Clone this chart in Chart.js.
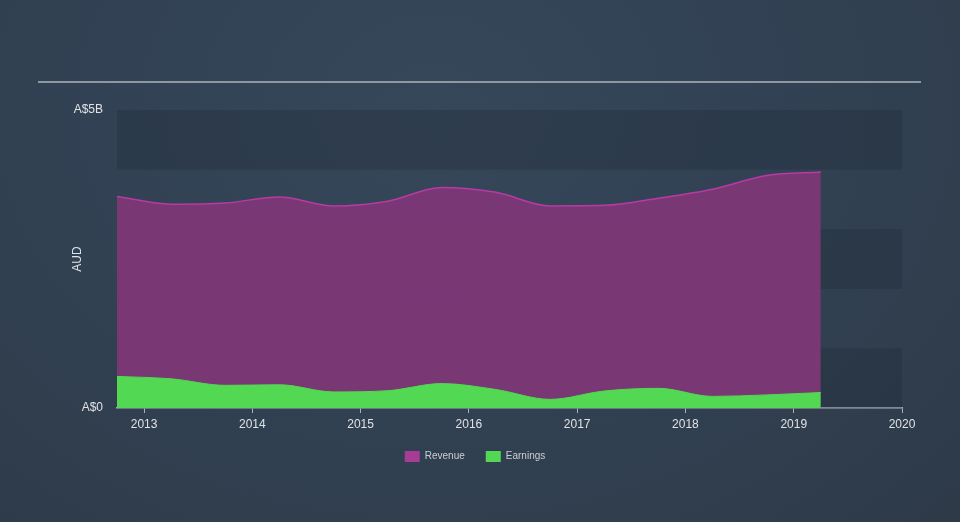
<!DOCTYPE html>
<html>
<head>
<meta charset="utf-8">
<script src="https://cdn.jsdelivr.net/npm/chart.js@4.4.0/dist/chart.umd.min.js"></script>
<style>
  html, body { margin: 0; padding: 0; }
  body {
    width: 960px; height: 522px; overflow: hidden;
    background: radial-gradient(ellipse at 45% 20%, #36475a 0%, #324254 45%, #2e3a48 100%);
  }
  #wrap { position: relative; width: 960px; height: 522px; }
</style>
</head>
<body>
<div id="wrap"><canvas id="chart" width="960" height="522"></canvas></div>
<script>
// half-yearly points, in fractional years
const dates = [2012.75, 2013.25, 2013.75, 2014.25, 2014.75, 2015.25, 2015.75,
               2016.25, 2016.75, 2017.25, 2017.75, 2018.25, 2018.75, 2019.25];
// A$ billions
const revenue = [3.55, 3.42, 3.44, 3.54, 3.39, 3.47, 3.70,
                 3.62, 3.39, 3.40, 3.52, 3.67, 3.90, 3.96];
const earnings = [0.53, 0.49, 0.38, 0.39, 0.27, 0.29, 0.41,
                  0.31, 0.145, 0.285, 0.33, 0.195, 0.22, 0.26];
const yearTicks = [2013, 2014, 2015, 2016, 2017, 2018, 2019, 2020];
const yTicks = [0, 5];

const pts = (vals) => vals.map((v, i) => ({ x: dates[i], y: v }));

// alternating horizontal bands + the rule above the chart
const decor = {
  id: 'decor',
  beforeDatasetsDraw(chart) {
    const { ctx, chartArea, scales } = chart;
    const y = scales.y;
    ctx.save();
    ctx.fillStyle = 'rgba(30, 40, 52, 0.3)';
    [[4, 5], [2, 3], [0, 1]].forEach(([a, b]) => {
      const top = y.getPixelForValue(b), bot = y.getPixelForValue(a);
      ctx.fillRect(chartArea.left, top, chartArea.right - chartArea.left, bot - top);
    });
    ctx.restore();
  },
  afterDraw(chart) {
    const ctx = chart.ctx;
    ctx.save();
    ctx.strokeStyle = '#aeb4bb';
    ctx.lineWidth = 1.5;
    ctx.beginPath();
    ctx.moveTo(38, 82);
    ctx.lineTo(921, 82);
    ctx.stroke();
    ctx.restore();
  }
};

Chart.defaults.font.family = '"Liberation Sans", Arial, sans-serif';
Chart.defaults.color = '#d8dce0';

new Chart(document.getElementById('chart').getContext('2d'), {
  type: 'line',
  data: {
    datasets: [{
      label: 'Revenue',
      data: pts(revenue),
      borderColor: '#b83aa2',
      backgroundColor: 'rgba(124, 56, 118, 0.97)',
      borderWidth: 1.5,
      fill: 'origin',
      pointRadius: 0,
      cubicInterpolationMode: 'monotone',
      order: 2
    }, {
      label: 'Earnings',
      data: pts(earnings),
      borderColor: '#53d853',
      backgroundColor: '#53d853',
      borderWidth: 1,
      fill: 'origin',
      pointRadius: 0,
      cubicInterpolationMode: 'monotone',
      order: 1
    }]
  },
  options: {
    responsive: false,
    animation: false,
    layout: { padding: { left: 48, right: 58, top: 110, bottom: 50 } },
    plugins: {
      tooltip: { enabled: false },
      legend: {
        position: 'bottom',
        labels: {
          boxWidth: 15, boxHeight: 11, padding: 21,
          color: '#c9ced4',
          font: { size: 10 },
          sort: (a, b) => a.datasetIndex - b.datasetIndex,
          generateLabels(chart) {
            const cols = ['#a63c94', '#53d853'];
            return chart.data.datasets.map((d, i) => ({
              text: d.label, fillStyle: cols[i], strokeStyle: cols[i],
              lineWidth: 0, datasetIndex: i, fontColor: '#c9ced4'
            }));
          }
        }
      }
    },
    scales: {
      x: {
        type: 'linear',
        min: 2012.75,
        max: 2020,
        afterBuildTicks: (s) => { s.ticks = yearTicks.map(v => ({ value: v })); },
        afterFit: (s) => { s.height = 22; },
        ticks: { callback: (v) => String(v), font: { size: 12 }, color: '#dfe2e6', padding: 4, maxRotation: 0 },
        grid: { drawOnChartArea: false, drawTicks: true, tickLength: 5, color: '#a9b0b8', lineWidth: 1 },
        border: { color: '#a9b0b8', width: 1.5 }
      },
      y: {
        min: 0,
        max: 5,
        afterBuildTicks: (s) => { s.ticks = yTicks.map(v => ({ value: v })); },
        afterFit: (s) => { s.width = 69; },
        ticks: { callback: (v) => v === 0 ? 'A$0' : 'A$' + v + 'B', font: { size: 12 }, color: '#dfe2e6', padding: 14 },
        grid: { display: false, drawTicks: false },
        border: { display: false },
        title: { display: true, text: 'AUD', color: '#dfe2e6', font: { size: 12 }, padding: { top: 22, bottom: 0 } }
      }
    }
  },
  plugins: [decor]
});
</script>
</body>
</html>
